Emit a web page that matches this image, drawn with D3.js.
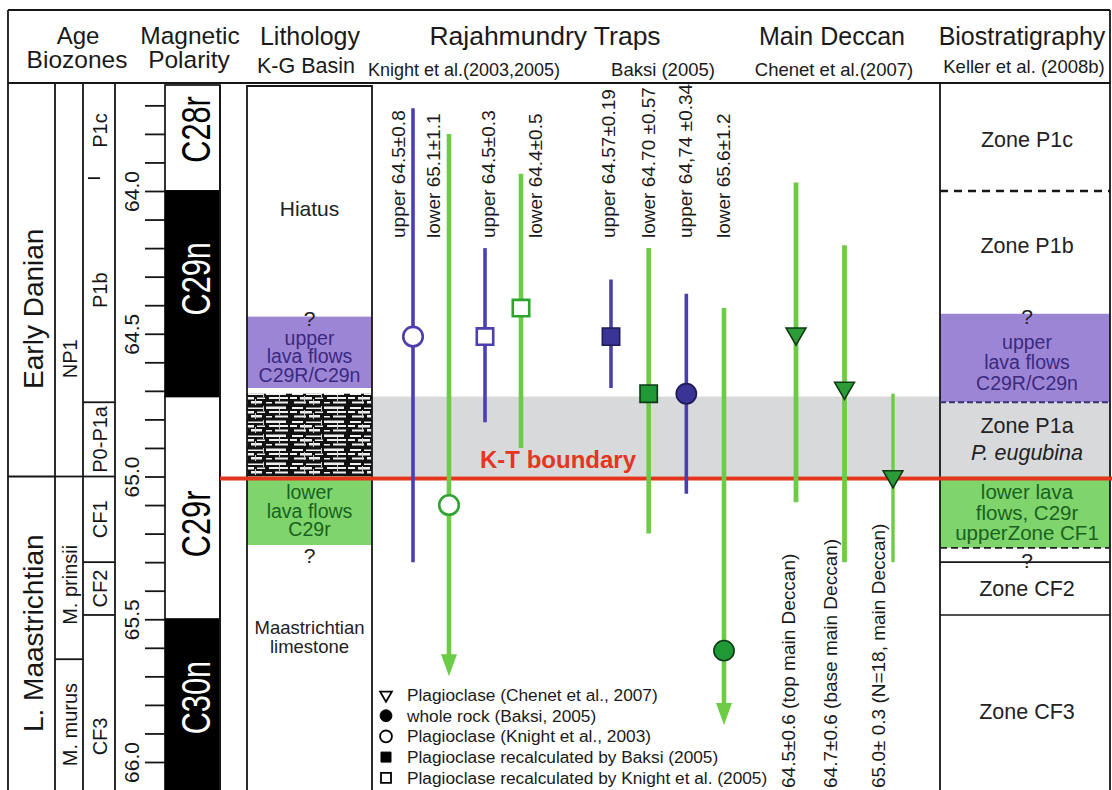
<!DOCTYPE html>
<html><head><meta charset="utf-8"><title>Rajahmundry Traps and Main Deccan ages</title>
<style>
  body { margin: 0; background: #fff; }
  svg { display: block; font-family: 'Liberation Sans', Arial, Helvetica, sans-serif; }
</style>
</head>
<body>
<svg id="chart" width="1112" height="790"></svg>
<script src="https://cdnjs.cloudflare.com/ajax/libs/d3/7.8.5/d3.min.js"></script>
<script>
// ---- data (ages in Ma) ----
const ageTicks = [63.7, 63.8, 63.9, 64.0, 64.1, 64.2, 64.3, 64.4, 64.5, 64.6, 64.7, 64.8, 64.9,
                  65.0, 65.1, 65.2, 65.3, 65.4, 65.5, 65.6, 65.7, 65.8, 65.9, 66.0];
const tickLabelValues = [64.0, 64.5, 65.0, 65.5, 66.0];
const tickLabels = ["64.0", "64.5", "65.0", "65.5", "66.0"];

const stages = [
  { name: "Early Danian", top: 63.62, base: 65.0 },
  { name: "L. Maastrichtian", top: 65.0, base: 66.1 }
];
const nannoZones = [
  { name: "NP1", top: 63.62, base: 65.0 },
  { name: "M. prinsii", top: 65.0, base: 65.64 },
  { name: "M. murus", top: 65.64, base: 66.1 }
];
const foramZones = [
  { name: "P1c", top: 63.62, base: 63.955 },
  { name: "P1b", top: 63.955, base: 64.74 },
  { name: "P0-P1a", top: 64.74, base: 65.0 },
  { name: "CF1", top: 65.0, base: 65.30 },
  { name: "CF2", top: 65.30, base: 65.485 },
  { name: "CF3", top: 65.485, base: 66.1 }
];
const chrons = [
  { name: "C28r", top: 63.625, base: 64.0, normal: false },
  { name: "C29n", top: 64.0, base: 64.72, normal: true },
  { name: "C29r", top: 64.72, base: 65.5, normal: false },
  { name: "C30n", top: 65.5, base: 66.1, normal: true }
];
const lithUnits = [
  { name: "Hiatus", top: 63.625, base: 64.44, type: "gap" },
  { name: "upper\nlava flows\nC29R/C29n", top: 64.44, base: 64.69, type: "upperLava" },
  { name: "", top: 64.71, base: 65.0, type: "beds" },
  { name: "lower\nlava flows\nC29r", top: 65.0, base: 65.24, type: "lowerLava" },
  { name: "Maastrichtian\nlimestone", top: 65.24, base: 66.1, type: "gap" }
];
const lithQueries = [{ age: 64.44, side: "top" }, { age: 65.24, side: "base" }];

const ktAge = 65.0;
const grayBand = [64.72, 65.0];

// Rajahmundry Traps, Knight et al. (2003, 2005)
const knight = [
  { label: "upper 64.5±0.8", flow: "upper", top: 63.71, mid: 64.51, base: 65.30, marker: "circle", filled: false, arrow: false },
  { label: "lower 65.1±1.1", flow: "lower", top: 63.80, mid: 65.10, base: 65.70, marker: "circle", filled: false, arrow: true },
  { label: "upper 64.5±0.3", flow: "upper", top: 64.20, mid: 64.51, base: 64.81, marker: "square", filled: false, arrow: false },
  { label: "lower 64.4±0.5", flow: "lower", top: 63.94, mid: 64.41, base: 64.90, marker: "square", filled: false, arrow: false }
];
// Rajahmundry Traps, Baksi (2005)
const baksi = [
  { label: "upper 64.57±0.19", flow: "upper", top: 64.31, mid: 64.51, base: 64.69, marker: "square", filled: true, arrow: false },
  { label: "lower 64.70 ±0.57", flow: "lower", top: 64.20, mid: 64.71, base: 65.20, marker: "square", filled: true, arrow: false },
  { label: "upper 64,74 ±0.34", flow: "upper", top: 64.36, mid: 64.71, base: 65.06, marker: "circle", filled: true, arrow: false },
  { label: "lower 65.6±1.2", flow: "lower", top: 64.41, mid: 65.61, base: 65.87, marker: "circle", filled: true, arrow: true }
];
// Main Deccan, Chenet et al. (2007)
const chenet = [
  { label: "64.5±0.6 (top main Deccan)", flow: "lower", top: 63.97, mid: 64.50, base: 65.09, marker: "triangle", filled: true, arrow: false },
  { label: "64.7±0.6 (base main Deccan)", flow: "lower", top: 64.19, mid: 64.69, base: 65.30, marker: "triangle", filled: true, arrow: false },
  { label: "65.0± 0.3 (N=18, main Deccan)", flow: "lower", top: 64.71, mid: 65.00, base: 65.30, marker: "triangle", filled: true, arrow: false }
];

// Biostratigraphy, Keller et al. (2008b)
const bioZones = [
  { name: "Zone P1c", top: 63.625, base: 64.0, type: "plain", baseLine: "dash" },
  { name: "Zone P1b", top: 64.0, base: 64.43, type: "plain", baseLine: "none" },
  { name: "upper\nlava flows\nC29R/C29n", top: 64.43, base: 64.74, type: "upperLava", baseLine: "dashPurple" },
  { name: "Zone P1a\n*P. eugubina", top: 64.74, base: 65.0, type: "gray", baseLine: "none" },
  { name: "lower lava\nflows, C29r\nupperZone CF1", top: 65.0, base: 65.25, type: "lowerLava", baseLine: "dashThin" },
  { name: "", top: 65.25, base: 65.30, type: "plain", baseLine: "solid" },
  { name: "Zone CF2", top: 65.30, base: 65.485, type: "plain", baseLine: "solid" },
  { name: "Zone CF3", top: 65.485, base: 66.1, type: "plain", baseLine: "none" }
];
const bioQueries = [{ age: 64.43, side: "top" }, { age: 65.25, side: "base" }];

const legendItems = [
  { marker: "triangle", filled: false, text: "Plagioclase (Chenet et al., 2007)" },
  { marker: "circle", filled: true, text: "whole rock (Baksi, 2005)" },
  { marker: "circle", filled: false, text: "Plagioclase (Knight et al., 2003)" },
  { marker: "square", filled: true, text: "Plagioclase recalculated by Baksi (2005)" },
  { marker: "square", filled: false, text: "Plagioclase recalculated by Knight et al. (2005)" }
];

// ---- layout ----
const svg = d3.select("#chart");
const headTop = 10, headBottom = 83, chartBottom = 790;
const frameL = 8, frameR = 1110;
const col = { stage: [8, 55], nanno: [55, 83], foram: [83, 115], pol: [165, 220], lith: [247, 372], traps: [372, 940], bio: [940, 1110] };

const purple = "#4b3fae", green = "#6dcc45";
const purpleDark = "#3b3497", greenDark = "#1f9836";
const lavaPurple = "#9d85d6", lavaGreen = "#80d46c";
const grayFill = "#d8d9db", red = "#e2361f";
const textPurple = "#3a2a7e", textGreen = "#17631f", ink = "#161616";

const y = d3.scaleLinear().domain([64, 66]).range([191, 762]);
const yc = a => Math.max(headBottom, Math.min(chartBottom, y(a)));

// manual nudges for some centred labels (pixels)
const labelShift = { "Early Danian": 29, "NP1": 79, "M. prinsii": 17, "CF3": 34, "Hiatus": 8,
  "Maastrichtian\nlimestone": -31, "C28r": -8, "C29n": -15, "C29r": 16, "C30n": -7,
  "Zone P1c": 3, "Zone P1b": -6, "Zone CF3": 10, "upper\nlava flows\nC29R/C29n": 4 };

// pattern for the bedded limestone between the lava flows
const defs = svg.append("defs");
const pat = defs.append("pattern").attr("id", "beds").attr("patternUnits", "userSpaceOnUse")
  .attr("width", 58).attr("height", 14);
pat.append("rect").attr("width", 58).attr("height", 14).attr("fill", "#111");
[[2,1,11,2],[16,1.5,15,1.5],[34,0.5,20,2.5],[0,5,7,2],[10,5,12,2.5],[25,5.5,8,1.5],[37,5,19,2],
 [4,9.5,12,2],[19,9,11,2.5],[34,10,6,1.5],[43,9.5,13,2]]
  .forEach(r => pat.append("rect").attr("x", r[0]).attr("y", r[1]).attr("width", r[2]).attr("height", r[3]).attr("fill", "#f0f0f0"));
[[14,4,1,8],[31,0,1,5],[23,7,1,6],[47,3,1,6]].forEach(r => pat.append("rect").attr("x", r[0]).attr("y", r[1]).attr("width", r[2]).attr("height", r[3]).attr("fill", "#ccc"));

// ---- backgrounds ----
svg.append("rect").attr("x", col.traps[0]).attr("width", col.traps[1] - col.traps[0])
  .attr("y", y(grayBand[0])).attr("height", y(grayBand[1]) - y(grayBand[0])).attr("fill", grayFill);

const lithFill = { gap: "#fff", upperLava: lavaPurple, beds: "url(#beds)", lowerLava: lavaGreen };
svg.append("g").selectAll("rect").data(lithUnits).join("rect")
  .attr("x", col.lith[0]).attr("width", col.lith[1] - col.lith[0])
  .attr("y", d => yc(d.top)).attr("height", d => yc(d.base) - yc(d.top))
  .attr("fill", d => lithFill[d.type]);

const bioFill = { plain: "#fff", upperLava: lavaPurple, gray: grayFill, lowerLava: lavaGreen };
svg.append("g").selectAll("rect").data(bioZones).join("rect")
  .attr("x", col.bio[0]).attr("width", col.bio[1] - col.bio[0])
  .attr("y", d => yc(d.top)).attr("height", d => yc(d.base) - yc(d.top))
  .attr("fill", d => bioFill[d.type]);

// polarity column
svg.append("g").selectAll("rect").data(chrons).join("rect")
  .attr("x", col.pol[0]).attr("width", col.pol[1] - col.pol[0])
  .attr("y", d => Math.max(85, yc(d.top))).attr("height", d => yc(d.base) - Math.max(85, yc(d.top)))
  .attr("fill", d => d.normal ? "#000" : "#fff").attr("stroke", "#000").attr("stroke-width", 1.6);
svg.append("g").selectAll("text").data(chrons).join("text")
  .attr("transform", d => `translate(${(col.pol[0] + col.pol[1]) / 2 + 3},${(yc(d.top) + yc(d.base)) / 2 + (labelShift[d.name] || 0)}) rotate(-90) scale(0.75,1)`)
  .attr("text-anchor", "middle").attr("dominant-baseline", "central")
  .attr("font-size", 41).attr("fill", d => d.normal ? "#fff" : "#000").text(d => d.name);

// ---- frame and column rules ----
const rules = svg.append("g").attr("stroke", ink).attr("stroke-width", 1.8).attr("fill", "none");
rules.append("line").attr("x1", frameL).attr("x2", frameR).attr("y1", headTop).attr("y2", headTop);
rules.append("line").attr("x1", frameL).attr("x2", frameR).attr("y1", headBottom).attr("y2", headBottom);
[frameL, frameR].forEach(x => rules.append("line").attr("x1", x).attr("x2", x).attr("y1", headTop).attr("y2", chartBottom));
[55, 83, 115, col.bio[0]].forEach(x => rules.append("line").attr("x1", x).attr("x2", x).attr("y1", headBottom).attr("y2", chartBottom));
[col.pol[1], col.lith[0], col.lith[1]].forEach(x => rules.append("line").attr("x1", x).attr("x2", x).attr("y1", 85).attr("y2", chartBottom));
rules.append("line").attr("x1", col.lith[0]).attr("x2", col.lith[1]).attr("y1", 86).attr("y2", 86);

// zone boundaries in the left columns
function boundaries(zones, x0, x1) {
  zones.slice(1).forEach(z => rules.append("line").attr("x1", x0).attr("x2", x1).attr("y1", y(z.top)).attr("y2", y(z.top)));
}
boundaries(stages, col.stage[0], col.stage[1]);
boundaries(nannoZones, col.nanno[0], col.nanno[1]);
foramZones.slice(2).forEach(z => rules.append("line").attr("x1", col.foram[0]).attr("x2", col.foram[1]).attr("y1", y(z.top)).attr("y2", y(z.top)));
// P1c / P1b contact marked by a short dash only
rules.append("line").attr("x1", 88).attr("x2", 100).attr("y1", y(foramZones[1].top)).attr("y2", y(foramZones[1].top));

// biostratigraphy boundaries
const bioLineStyle = {
  dash: { stroke: ink, w: 2.6, dash: "8,6" },
  dashPurple: { stroke: "#3a3170", w: 2, dash: "6,3" },
  dashThin: { stroke: "#222", w: 1.6, dash: "7,4" },
  solid: { stroke: ink, w: 1.6, dash: null }
};
bioZones.filter(z => bioLineStyle[z.baseLine]).forEach(z => {
  const s = bioLineStyle[z.baseLine];
  svg.append("line").attr("x1", col.bio[0]).attr("x2", col.bio[1]).attr("y1", y(z.base)).attr("y2", y(z.base))
    .attr("stroke", s.stroke).attr("stroke-width", s.w).attr("stroke-dasharray", s.dash);
});

// ---- age axis ----
const axis = d3.axisLeft(y).tickValues(ageTicks).tickSize(20).tickPadding(0)
  .tickFormat(v => { const i = tickLabelValues.findIndex(t => Math.abs(t - v) < 1e-6); return i >= 0 ? tickLabels[i] : ""; });
const ag = svg.append("g").attr("transform", `translate(${col.pol[0]},0)`).call(axis)
  .attr("font-family", null).attr("font-size", null);
ag.select(".domain").remove();
ag.selectAll(".tick line").attr("stroke", ink).attr("stroke-width", 1.8);
ag.selectAll(".tick text").attr("x", null).attr("dy", null)
  .attr("transform", "translate(-34,0) rotate(-90)").attr("text-anchor", "middle")
  .attr("dominant-baseline", "central").attr("font-size", 21).attr("fill", ink);

// ---- rotated zone labels ----
function zoneLabels(zones, cx, size) {
  svg.append("g").selectAll("text").data(zones).join("text")
    .attr("transform", d => `translate(${cx},${(yc(d.top) + yc(d.base)) / 2 + (labelShift[d.name] || 0)}) rotate(-90)`)
    .attr("text-anchor", "middle").attr("dominant-baseline", "central")
    .attr("font-size", size).attr("fill", ink).text(d => d.name);
}
zoneLabels(stages, 33, 28);
zoneLabels(nannoZones, 70, 20);
zoneLabels(foramZones, 100, 20);

// ---- multi-line centred labels inside units ----
function blockText(x, cy, label, size, lh, color) {
  const lines = label.split("\n");
  const t = svg.append("text").attr("text-anchor", "middle").attr("font-size", size).attr("fill", color);
  lines.forEach((ln, i) => {
    const italic = ln.startsWith("*");
    t.append("tspan").attr("x", x).attr("y", cy + (i - (lines.length - 1) / 2) * lh)
      .attr("dominant-baseline", "central").attr("font-style", italic ? "italic" : null)
      .text(italic ? ln.slice(1) : ln);
  });
}
const lithX = (col.lith[0] + col.lith[1]) / 2;
lithUnits.filter(d => d.name).forEach(d => {
  const color = d.type === "upperLava" ? textPurple : d.type === "lowerLava" ? textGreen : "#222";
  const size = d.name === "Hiatus" ? 21 : d.type === "gap" ? 18.5 : 19.5;
  blockText(lithX, (yc(d.top) + yc(d.base)) / 2 + (labelShift[d.name] || 0), d.name, size, d.type === "gap" ? 19 : 18.5, color);
});
lithQueries.forEach(q => svg.append("text").attr("x", lithX).attr("y", y(q.age) + (q.side === "top" ? 9 : 18))
  .attr("text-anchor", "middle").attr("font-size", 21).attr("fill", "#222").text("?"));

const bioX = (col.bio[0] + col.bio[1]) / 2 + 2;
bioZones.filter(d => d.name).forEach(d => {
  const color = d.type === "upperLava" ? textPurple : d.type === "lowerLava" ? textGreen : "#222";
  const size = d.type === "upperLava" ? 19.5 : d.type === "lowerLava" ? 20.5 : 21.5;
  const lh = d.type === "gray" ? 27 : 20.5;
  blockText(bioX, (yc(d.top) + yc(d.base)) / 2 + (labelShift[d.name] || 0), d.name, size, lh, color);
});
bioQueries.forEach(q => svg.append("text").attr("x", bioX).attr("y", y(q.age) + (q.side === "top" ? 10 : 20))
  .attr("text-anchor", "middle").attr("font-size", 21).attr("fill", "#222").text("?"));

// ---- K-T boundary ----
svg.append("line").attr("x1", col.pol[1]).attr("x2", 1112).attr("y1", y(ktAge) + 2).attr("y2", y(ktAge) + 2)
  .attr("stroke", red).attr("stroke-width", 4);
svg.append("text").attr("x", 558).attr("y", y(ktAge) - 9).attr("text-anchor", "middle")
  .attr("font-size", 24).attr("font-weight", "bold").attr("fill", red).text("K-T boundary");

// ---- dated samples ----
const markerPath = (type, size) => {
  if (type === "circle") return d3.symbol(d3.symbolCircle, size)();
  if (type === "square") return d3.symbol(d3.symbolSquare, size)();
  return d3.symbol(d3.symbolTriangle, size)();
};
function drawDatings(data, lineRange, labelShiftX, labelBase, lineW) {
  const xl = d3.scalePoint().domain(data.map(d => d.label)).range(lineRange);
  const g = svg.append("g");
  data.forEach((d, i) => {
    const x = xl(d.label);
    const c = d.flow === "upper" ? purple : green;
    const w = d.flow === "upper" ? 3.6 : (lineW ? lineW[i] : 4.6);
    g.append("line").attr("x1", x).attr("x2", x).attr("y1", y(d.top)).attr("y2", y(d.base) - (d.arrow ? 16 : 0))
      .attr("stroke", c).attr("stroke-width", w);
    if (d.arrow) {
      const yb = y(d.base);
      g.append("path").attr("d", `M${x - 8},${yb - 22}L${x + 8},${yb - 22}L${x},${yb}Z`).attr("fill", green);
    }
    let fill, stroke, size, rot = "";
    if (d.marker === "triangle") { fill = "#2c9b38"; stroke = "#0e3a12"; size = 170; rot = " rotate(180)"; }
    else if (d.filled) { fill = d.flow === "upper" ? purpleDark : greenDark; stroke = d.flow === "upper" ? "#1f1a5a" : "#0c3a14"; size = d.marker === "circle" ? 320 : 300; }
    else { fill = "#fff"; stroke = d.flow === "upper" ? purple : "#2ea32e"; size = d.marker === "circle" ? 300 : 270; }
    g.append("path").attr("d", markerPath(d.marker, size))
      .attr("transform", `translate(${x},${y(d.mid)})${rot}`)
      .attr("fill", fill).attr("stroke", stroke).attr("stroke-width", d.filled ? 1.6 : 2.6);
    g.append("text").attr("transform", `translate(${x + labelShiftX[i]},${labelBase}) rotate(-90)`)
      .attr("dominant-baseline", "central").attr("font-size", 19).attr("fill", "#1a1a1a").text(d.label);
  });
}
drawDatings(knight, [413, 521], [-15, -16, 3, 14], 238);
drawDatings(baksi, [611, 724], [-3, 0, -1, -1], 238);
drawDatings(chenet, [796, 893], [-8, -14, -15], 788, [4.8, 4.8, 3.4]);

// ---- legend ----
const lg = svg.append("g");
legendItems.forEach((d, i) => {
  const ly = 695 + i * 20.7;
  let p;
  if (d.marker === "triangle") p = lg.append("path").attr("d", d3.symbol(d3.symbolTriangle, 60)()).attr("transform", `translate(386,${ly}) rotate(180)`);
  else p = lg.append("path").attr("d", markerPath(d.marker, d.marker === "circle" ? 110 : 100)).attr("transform", `translate(386,${ly})`);
  p.attr("fill", d.filled ? "#000" : "#fff").attr("stroke", "#000").attr("stroke-width", d.filled ? 1 : 1.8);
  lg.append("text").attr("x", 407).attr("y", ly).attr("dominant-baseline", "central")
    .attr("font-size", 17.3).attr("fill", "#1a1a1a").text(d.text);
});

// ---- header ----
const head = svg.append("g").attr("fill", "#1a1a1a").attr("text-anchor", "middle");
[["Age", 78, 44, 24], ["Biozones", 77, 68, 24.5], ["Magnetic", 190, 44, 24.5], ["Polarity", 189, 68, 24.5],
 ["Lithology", 310, 45, 25], ["K-G Basin", 306, 73, 21.5], ["Rajahmundry Traps", 545, 45, 26.5],
 ["Knight et al.(2003,2005)", 464, 76, 18], ["Baksi (2005)", 663, 76, 18.5], ["Main Deccan", 832, 45, 25],
 ["Chenet et al.(2007)", 834, 76, 18.5], ["Biostratigraphy", 1022, 45, 25], ["Keller et al. (2008b)", 1024, 73, 18.5]]
  .forEach(h => head.append("text").attr("x", h[1]).attr("y", h[2]).attr("font-size", h[3]).text(h[0]));
</script>
</body></html>
